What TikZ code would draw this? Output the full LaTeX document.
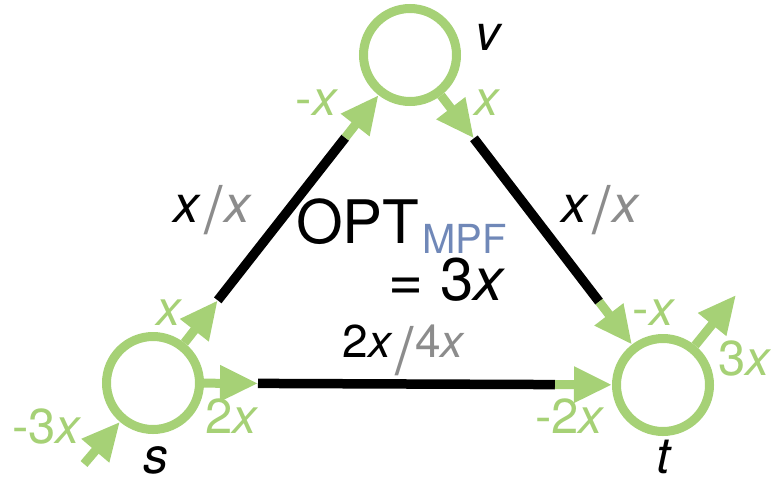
\documentclass[tikz,border=0pt]{standalone}
\usepackage{fontspec}
\setmainfont{TeX Gyre Heros}
\usetikzlibrary{arrows.meta,calc}

\definecolor{flowgreen}{RGB}{166,209,118}
\definecolor{capgray}{RGB}{140,140,140}
\definecolor{mpfblue}{RGB}{112,136,184}

\newcommand{\fsz}[1]{\fontsize{#1}{#1}\selectfont}
\newcommand{\capslash}[1]{\kern3pt{\color{capgray}\raisebox{#1}{\fsz{66}/}}\kern1pt}

\begin{document}
\begin{tikzpicture}[x=1pt,y=-1pt,
  vertex/.style={circle,draw=flowgreen,line width=9pt,minimum size=93pt,inner sep=0pt},
  edge/.style={line width=9.5pt},
  flow/.style={draw=flowgreen,line width=9pt,-{Triangle[length=38pt,width=34pt]}},
  flowlbl/.style={text=flowgreen,inner sep=0pt,anchor=base,font=\fsz{49}},
  vlbl/.style={inner sep=0pt,anchor=base,font=\fsz{50}\itshape},
  caplbl/.style={inner sep=0pt,anchor=base,font=\fsz{52}}]

  \useasboundingbox (0,0) rectangle (771,477);

  % vertices
  \node[vertex] (s) at (153,383) {};
  \node[vertex] (v) at (410,55) {};
  \node[vertex] (t) at (663,385) {};

  \node[vlbl] (ls) at (156,473) {s};
  \node[vlbl] (lv) at (488,50) {v};
  \node[vlbl] (lt) at (663,473) {t};

  % where the black part of each edge begins and ends
  \coordinate (sv1) at ($(s)!105pt!(v)$);
  \coordinate (sv2) at ($(v)!105pt!(s)$);
  \coordinate (vt1) at ($(v)!105pt!(t)$);
  \coordinate (vt2) at ($(t)!105pt!(v)$);
  \coordinate (st1) at ($(s)!105pt!(t)$);
  \coordinate (st2) at ($(t)!108pt!(s)$);
  \coordinate (sin) at (84,464);
  \coordinate (tout) at (736,295);

  \draw[edge] (sv1) -- (sv2);
  \draw[edge] (vt1) -- (vt2);
  \draw[edge] (st1) -- (st2);

  \draw[flow] (s) -- (sv1);
  \draw[flow] (sv2) -- (v);
  \draw[flow] (v) -- (vt1);
  \draw[flow] (vt2) -- (t);
  \draw[flow] (s) -- (st1);
  \draw[flow] (st2) -- (t);
  \draw[flow] (sin) -- (s);
  \draw[flow] (t) -- (tout);

  % flow values
  \node[flowlbl] (fsv) at (170,325) {\textit{x}};
  \node[flowlbl] (fst) at (232,433) {2\textit{x}};
  \node[flowlbl] (fsin) at (47,443) {-3\textit{x}};
  \node[flowlbl] (fvs) at (317,115) {-\textit{x}};
  \node[flowlbl] (fvt) at (488,115) {\textit{x}};
  \node[flowlbl] (ftv) at (654,325) {-\textit{x}};
  \node[flowlbl] (fts) at (570,433) {-2\textit{x}};
  \node[flowlbl] (ftout) at (745,375) {3\textit{x}};

  % capacities
  \node[caplbl] (csv) at (212,222) {\textit{x}\capslash{-11pt}\textit{\color{capgray}x}};
  \node[caplbl] (cvt) at (600,222) {\textit{x}\capslash{-11pt}\textit{\color{capgray}x}};
  \node[caplbl,font=\fsz{46}] (cst) at (404,357) {2\textit{x}\capslash{-17pt}{\color{capgray}4\textit{x}}};

  % optimum
  \node[anchor=base west,inner sep=0pt,font=\fsz{60}] (opt) at (296,243)
    {OPT\kern3pt\raisebox{-10pt}{\fsz{40}\color{mpfblue}MPF}};
  \node[anchor=base east,inner sep=0pt,font=\fsz{60}] (opteq) at (506,300) {= 3\textit{x}};

\end{tikzpicture}
\end{document}
